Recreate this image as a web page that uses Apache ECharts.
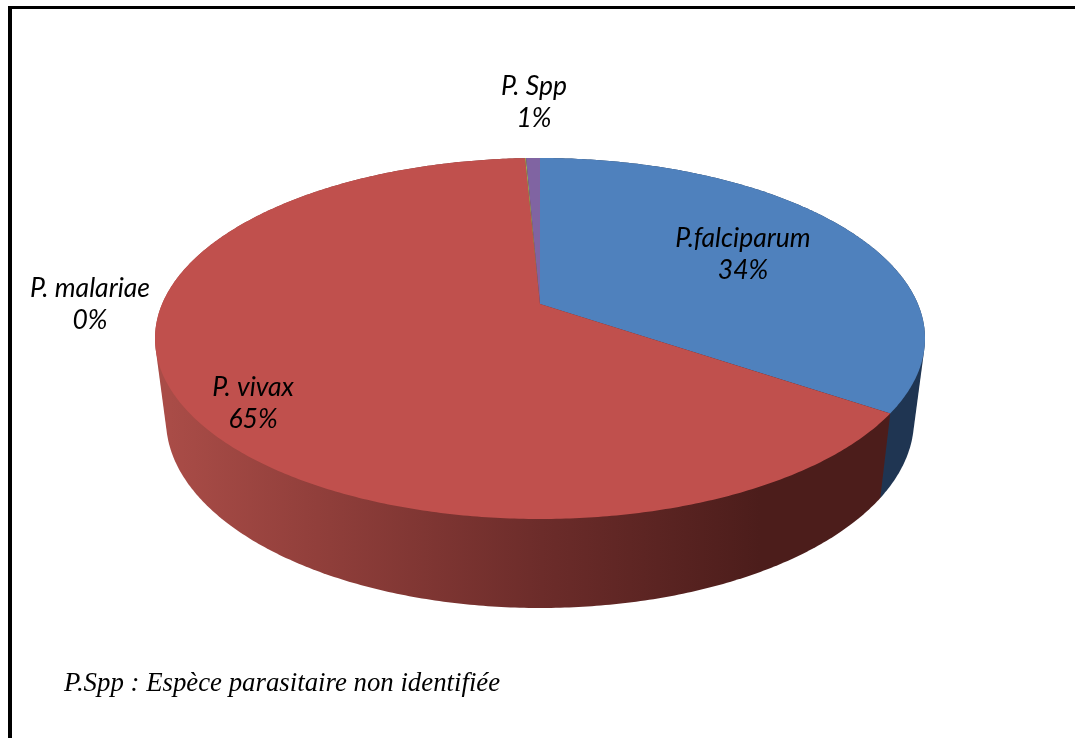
<!DOCTYPE html>
<html><head><meta charset="utf-8">
<style>html,body{margin:0;padding:0;background:#fff}#c{width:1075px;height:738px}</style>
<script src="https://cdn.jsdelivr.net/npm/echarts@6/dist/echarts.min.js"></script>
</head><body><div id="c"></div>
<script>
// data
const categories = ['P.falciparum', 'P. vivax', 'P. malariae', 'P. Spp'];
const shares = [34.49, 64.76, 0.05, 0.7];
const noteText = 'P.Spp : Espèce parasitaire non identifiée';

// styling / layout
const topColors = ['#4f81bd', '#c0504d', '#9bbb59', '#8064a2'];
const labelCenters = [[743, 254], [253, 403], [90, 304], [534, 102]];
const TOP = {cx: 540, cy: 338.5, rx: 385, ry: 180.5};
const BOT = {cx: 540, cy: 420, rx: 374, ry: 188};
const APEX_Y = 304;

// circle -> perspective top face (homography sending centre to the apex)
const persp = (function () {
  const yb = TOP.cy + TOP.ry, yt = TOP.cy - TOP.ry;
  const c = (2 * APEX_Y - yb - yt) / (yb - yt);
  const a = yb * (1 + c) - APEX_Y;
  const vm = (TOP.cy - APEX_Y) / (a - c * TOP.cy);
  const X = TOP.rx * (1 + c * vm) / Math.sqrt(1 - vm * vm);
  return function (ang) {
    const u = Math.sin(ang), v = -Math.cos(ang), d = 1 + c * v;
    return [TOP.cx + X * u / d, (a * v + APEX_Y) / d];
  };
})();
const toBottom = p => [
  BOT.cx + (p[0] - TOP.cx) / TOP.rx * BOT.rx,
  BOT.cy + (p[1] - TOP.cy) / TOP.ry * BOT.ry
];
function arc(a0, a1) {
  const n = Math.max(2, Math.ceil((a1 - a0) / 0.01)), pts = [];
  for (let i = 0; i <= n; i++) pts.push(persp(a0 + (a1 - a0) * i / n));
  return pts;
}
function hull(points) {
  const p = points.slice().sort((a, b) => a[0] - b[0] || a[1] - b[1]);
  const cross = (o, a, b) => (a[0] - o[0]) * (b[1] - o[1]) - (a[1] - o[1]) * (b[0] - o[0]);
  const half = list => {
    const h = [];
    list.forEach(q => {
      while (h.length > 1 && cross(h[h.length - 2], h[h.length - 1], q) <= 0) h.pop();
      h.push(q);
    });
    h.pop();
    return h;
  };
  return half(p).concat(half(p.slice().reverse()));
}
const total = shares.reduce((s, x) => s + x, 0);
const ranges = [];
shares.reduce((acc, x) => { const b = acc + x / total * 2 * Math.PI; ranges.push([acc, b]); return b; }, 0);

const sideFills = [
  '#1f3552',
  new echarts.graphic.LinearGradient(170, 0, 760, 0, [
    {offset: 0, color: '#a94c47'},
    {offset: 0.25, color: '#913f3b'},
    {offset: 0.63, color: '#6c2c2a'},
    {offset: 1, color: '#4c1d1b'}
  ], true),
  '#5b6f35',
  '#4b3a60'
];

const option = {
  animation: false,
  backgroundColor: '#fff',
  title: {
    text: noteText, left: 59, top: 665,
    textStyle: {fontFamily: '"Liberation Serif", serif', fontStyle: 'italic', fontWeight: 'normal', fontSize: 26.8, color: '#000'}
  },
  graphic: [{
    type: 'line', silent: true,
    shape: {x1: 8, y1: 7.5, x2: 1075, y2: 7.5},
    style: {stroke: '#000', lineWidth: 3}
  }, {
    type: 'line', silent: true,
    shape: {x1: 10, y1: 6, x2: 10, y2: 738},
    style: {stroke: '#000', lineWidth: 4}
  }],
  series: [{
    type: 'custom',
    coordinateSystem: 'none',
    silent: true,
    clip: false,
    data: categories.map((n, i) => ({name: n, value: shares[i]})),
    renderItem: function (params) {
      const i = params.dataIndex, r = ranges[i], top = arc(r[0], r[1]);
      const bot = top.map(toBottom);
      const children = [{
        type: 'polygon', z2: i === 1 ? 2 : 1,
        shape: {points: hull(top.concat(bot))},
        style: {fill: sideFills[i]}
      }, {
        type: 'polygon', z2: 10,
        shape: {points: [[TOP.cx, APEX_Y]].concat(top)},
        style: {fill: topColors[i]}
      }, {
        type: 'text', z2: 20,
        x: labelCenters[i][0], y: labelCenters[i][1],
        style: {
          text: categories[i] + '\n' + Math.round(shares[i] / total * 100) + '%',
          fill: '#000', align: 'center', verticalAlign: 'middle',
          fontFamily: 'Lato, sans-serif', fontStyle: 'italic', fontSize: 26.5, lineHeight: 32
        }
      }];
      return {type: 'group', children: children};
    }
  }]
};
echarts.init(document.getElementById('c'), null, {renderer: 'canvas'}).setOption(option);
</script></body></html>
